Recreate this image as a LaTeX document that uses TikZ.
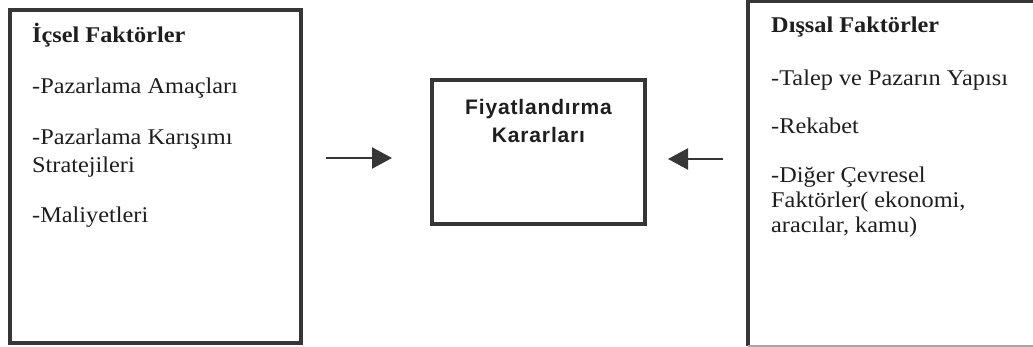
\documentclass[tikz,border=0pt]{standalone}
\usepackage{fontspec}
\setmainfont{Liberation Serif}[FakeStretch=1.08]
\newfontfamily\deckfont{Liberation Sans}[LetterSpace=4]
\usetikzlibrary{arrows.meta}
\definecolor{ink}{HTML}{363636}
\definecolor{txt}{HTML}{1E1E1E}

\begin{document}
\begin{tikzpicture}[x=1pt,y=-1pt,
  frame/.style={draw=ink, line width=3.4pt, inner sep=0pt, outer sep=0pt},
  item/.style={anchor=base west, inner sep=0pt, text=txt, font=\fontsize{22.5}{28}\selectfont},
  head/.style={item, font=\fontsize{22.5}{28}\selectfont\bfseries},
  deck/.style={anchor=base, inner sep=0pt, text=txt, font=\fontsize{21}{28}\deckfont\bfseries},
  flow/.style={draw=ink, line width=2.2pt, -{Triangle[length=20pt,width=21pt]}}]
\useasboundingbox (0,0) rectangle (1033,347);

% internal factors
\node[frame, minimum width=291pt, minimum height=333pt, anchor=north west] (ibox) at (10,10) {};
\node[head] (ihead) at (32,43) {İçsel Faktörler};
\node[item] (i1) at (32,94) {-Pazarlama Amaçları};
\node[item] (i2a) at (32,145) {-Pazarlama Karışımı};
\node[item] (i2b) at (32,173) {Stratejileri};
\node[item] (i3) at (32,223) {-Maliyetleri};

% pricing decisions
\node[frame, minimum width=213pt, minimum height=144pt, anchor=north west] (cbox) at (432,80) {};
\node[deck] (c1) at (538.5,115) {Fiyatlandırma};
\node[deck] (c2) at (538.5,143) {Kararları};

% external factors (box runs past the right margin)
\node[inner sep=0pt, outer sep=0pt, minimum width=300pt, minimum height=344.5pt, anchor=north west] (ebox) at (748,1.5) {};
\draw[ink, line width=3.4pt] (ebox.north east) -- (ebox.north west) -- (ebox.south west);
\draw[gray!70, line width=1.2pt] (ebox.south west) -- (ebox.south east);
\node[head] (ehead) at (771,33) {Dışsal Faktörler};
\node[item] (e1) at (771,86) {-Talep ve Pazarın Yapısı};
\node[item] (e2) at (771,134) {-Rekabet};
\node[item] (e3a) at (771,183) {-Diğer Çevresel};
\node[item] (e3b) at (771,208) {Faktörler( ekonomi,};
\node[item] (e3c) at (771,233) {aracılar, kamu)};

% influences on the decision
\coordinate (srcI) at (326,158);
\coordinate (srcE) at (723,159);
\draw[flow, shorten >=40pt] (srcI) -- (srcI -| cbox.west);
\draw[flow, shorten >=23pt] (srcE) -- (srcE -| cbox.east);
\end{tikzpicture}
\end{document}
